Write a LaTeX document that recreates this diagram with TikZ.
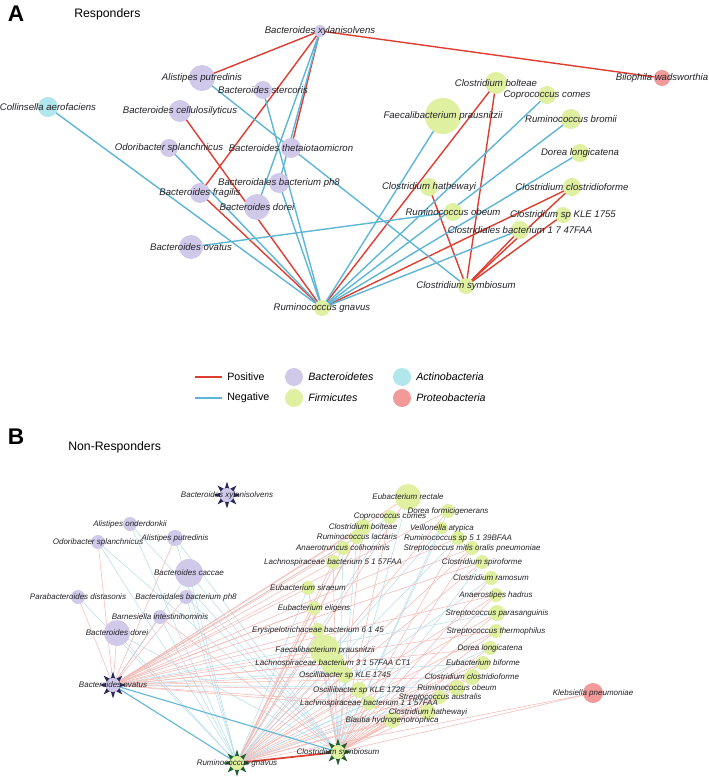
\documentclass[tikz,border=0pt]{standalone}
\usepackage{fontspec}
\setmainfont{Liberation Sans}
\usetikzlibrary{shapes.geometric}
\pgfdeclarelayer{bg}
\pgfdeclarelayer{fg}
\pgfsetlayers{bg,main,fg}
\definecolor{bact}{RGB}{208,201,234}
\definecolor{firm}{RGB}{223,240,160}
\definecolor{acti}{RGB}{176,230,236}
\definecolor{prot}{RGB}{242,154,154}
\definecolor{posc}{RGB}{222,62,50}
\definecolor{negc}{RGB}{94,182,214}
\definecolor{txt}{RGB}{35,35,40}
\definecolor{navyc}{RGB}{40,42,90}
\definecolor{dgreen}{RGB}{30,95,45}
\tikzset{
  pedge/.style={draw=posc, line width=1.05pt},
  nedge/.style={draw=negc, line width=1.05pt},
  fpedge/.style={draw=posc!36, line width=0.4pt},
  fnedge/.style={draw=negc!45, line width=0.4pt},
  labA/.style={font=\fontsize{7.2}{8}\selectfont\itshape, text=txt, inner sep=0},
  labB/.style={font=\fontsize{6}{7}\selectfont\itshape, text=txt, inner sep=0},
  sp/.style={circle, inner sep=0, draw=none},
  legt/.style={font=\fontsize{8}{9}\selectfont, text=black, inner sep=0, anchor=west},
  legi/.style={font=\fontsize{8}{9}\selectfont\itshape, text=black, inner sep=0, anchor=west},
  hubstar/.style={star, star points=8, star point ratio=2.1, minimum size=20pt, inner sep=0, draw=none},
}
\newcommand{\SpN}[7]{%
  \node[sp, fill=#5, minimum size={1.5*#4pt}] (#1) at (#2,#3) {};
  \begin{pgfonlayer}{fg}\node[#6] (#1-t) at (#2,#3) {#7};\end{pgfonlayer}
}
\newcommand{\HubN}[7]{%
  \node[hubstar, fill=#5] (#1-s) at (#2,#3) {};
  \node[sp, fill=#4, minimum size=10.5pt] (#1) at (#2,#3) {};
  \begin{pgfonlayer}{fg}\node[#6] (#1-t) at (#2,#3) {#7};\end{pgfonlayer}
}
\begin{document}
\begin{tikzpicture}[x=0.75pt, y=-0.75pt]
\useasboundingbox (0,0) rectangle (709,777);
\begin{pgfonlayer}{bg}
\fill[white] (0,0) rectangle (709,777);
\end{pgfonlayer}

% ---------------- Panel A ----------------
\node[font=\fontsize{17}{18}\selectfont\bfseries, inner sep=0] (tA) at (16,14) {A};
\node[font=\fontsize{9.2}{10}\selectfont, inner sep=0, anchor=west] (tAr) at (74,14) {Responders};

\SpN{axyl}{320}{31}{6}{bact}{labA}{Bacteroides xylanisolvens}
\SpN{abil}{662}{78}{8}{prot}{labA}{Bilophila wadsworthia}
\SpN{aali}{202}{78}{13}{bact}{labA}{Alistipes putredinis}
\SpN{aste}{263}{90}{9}{bact}{labA}{Bacteroides stercoris}
\SpN{acol}{48}{107}{10}{acti}{labA}{Collinsella aerofaciens}
\SpN{acel}{180}{111}{11}{bact}{labA}{Bacteroides cellulosilyticus}
\SpN{aodo}{169}{148}{9}{bact}{labA}{Odoribacter splanchnicus}
\SpN{athe}{291}{148}{10}{bact}{labA}{Bacteroides thetaiotaomicron}
\SpN{aph8}{279}{183}{10}{bact}{labA}{Bacteroidales bacterium ph8}
\SpN{afra}{200}{193}{10}{bact}{labA}{Bacteroides fragilis}
\SpN{ador}{257}{207}{13}{bact}{labA}{Bacteroides dorei}
\SpN{aova}{191}{247}{12}{bact}{labA}{Bacteroides ovatus}
\SpN{agna}{322}{308}{8}{firm}{labA}{Ruminococcus gnavus}
\SpN{afpr}{443}{116}{18}{firm}{labA}{Faecalibacterium prausnitzii}
\SpN{abol}{496}{83}{11}{firm}{labA}{Clostridium bolteae}
\SpN{acom}{547}{95}{9}{firm}{labA}{Coprococcus comes}
\SpN{abro}{571}{119}{10}{firm}{labA}{Ruminococcus bromii}
\SpN{adlo}{580}{153}{9}{firm}{labA}{Dorea longicatena}
\SpN{aclo}{572}{187}{9}{firm}{labA}{Clostridium clostridioforme}
\SpN{ahat}{429}{187}{9}{firm}{labA}{Clostridium hathewayi}
\SpN{aobe}{453}{212}{9}{firm}{labA}{Ruminococcus obeum}
\SpN{akle}{563}{215}{8}{firm}{labA}{Clostridium sp KLE 1755}
\SpN{ac47}{520}{230}{9}{firm}{labA}{Clostridiales bacterium 1 7 47FAA}
\SpN{asym}{466}{286}{8}{firm}{labA}{Clostridium symbiosum}

\begin{pgfonlayer}{bg}
\foreach \a/\b/\s in {axyl/abil/pedge, axyl/aali/pedge, axyl/afra/pedge, axyl/athe/pedge,
  acel/agna/pedge, afra/agna/pedge, abol/agna/pedge, aclo/agna/pedge,
  abol/asym/pedge, ahat/asym/pedge, aclo/asym/pedge, akle/asym/pedge, ac47/asym/pedge,
  acol/agna/nedge, aodo/agna/nedge, aste/agna/nedge, aph8/agna/nedge,
  axyl/ador/nedge, axyl/aph8/nedge, aali/asym/nedge, aova/aobe/nedge,
  afpr/agna/nedge, acom/agna/nedge, abro/agna/nedge, adlo/agna/nedge, ac47/agna/nedge}
  \draw[\s] (\a.center) -- (\b.center);
\end{pgfonlayer}

% legend
\coordinate (lp1) at (195,377);
\coordinate (lp2) at (222,377);
\coordinate (ln1) at (195,398);
\coordinate (ln2) at (222,398);
\draw[draw=posc, line width=2.2pt] (lp1) -- (lp2);
\draw[draw=negc, line width=2.2pt] (ln1) -- (ln2);
\node[legt] (lgpt) at (227,377) {Positive};
\node[legt] (lgnt) at (227,398) {Negative};
\node[sp, fill=bact, minimum size=13.5pt] (lgb) at (294,377) {};
\node[legi] (lgbt) at (308,377) {Bacteroidetes};
\node[sp, fill=firm, minimum size=13.5pt] (lgf) at (294,398) {};
\node[legi] (lgft) at (308,398) {Firmicutes};
\node[sp, fill=acti, minimum size=13.5pt] (lga) at (402,377) {};
\node[legi] (lgat) at (416,377) {Actinobacteria};
\node[sp, fill=prot, minimum size=13.5pt] (lgp) at (402,398) {};
\node[legi] (lgpr) at (416,398) {Proteobacteria};

% ---------------- Panel B ----------------
\node[font=\fontsize{17}{18}\selectfont\bfseries, inner sep=0] (tB) at (16,437) {B};
\node[font=\fontsize{9.2}{10}\selectfont, inner sep=0, anchor=west] (tBr) at (68,447) {Non-Responders};

\HubN{bxyl}{227}{495}{bact}{navyc}{labB}{Bacteroides xylanisolvens}
\HubN{bova}{113}{685}{bact}{navyc}{labB}{Bacteroides ovatus}
\HubN{bgna}{237}{763}{firm}{dgreen}{labB}{Ruminococcus gnavus}
\HubN{bsym}{338}{752}{firm}{dgreen}{labB}{Clostridium symbiosum}

\SpN{bond}{130}{524}{7}{bact}{labB}{Alistipes onderdonkii}
\SpN{bodo}{98}{542}{7}{bact}{labB}{Odoribacter splanchnicus}
\SpN{bput}{175}{538}{8}{bact}{labB}{Alistipes putredinis}
\SpN{bcac}{189}{573}{14}{bact}{labB}{Bacteroides caccae}
\SpN{bpar}{78}{597}{7}{bact}{labB}{Parabacteroides distasonis}
\SpN{bph8}{186}{597}{7}{bact}{labB}{Bacteroidales bacterium ph8}
\SpN{bbar}{160}{617}{7}{bact}{labB}{Barnesiella intestinihominis}
\SpN{bdor}{117}{633}{13}{bact}{labB}{Bacteroides dorei}
\SpN{bkle}{593}{693}{10}{prot}{labB}{Klebsiella pneumoniae}

\SpN{brec}{408}{497}{13}{firm}{labB}{Eubacterium rectale}
\SpN{bdfo}{448}{511}{7}{firm}{labB}{Dorea formicigenerans}
\SpN{bcom}{390}{517}{7}{firm}{labB}{Coprococcus comes}
\SpN{bbol}{363}{527}{8}{firm}{labB}{Clostridium bolteae}
\SpN{bvei}{442}{528}{6}{firm}{labB}{Veillonella atypica}
\SpN{blac}{357}{537}{7}{firm}{labB}{Ruminococcus lactaris}
\SpN{br39}{458}{538}{7}{firm}{labB}{Ruminococcus sp 5 1 39BFAA}
\SpN{bana}{343}{548}{7}{firm}{labB}{Anaerotruncus colihominis}
\SpN{bsmi}{472}{548}{7}{firm}{labB}{Streptococcus mitis oralis pneumoniae}
\SpN{bl57}{333}{562}{7}{firm}{labB}{Lachnospiraceae bacterium 5 1 57FAA}
\SpN{bspi}{482}{562}{7}{firm}{labB}{Clostridium spiroforme}
\SpN{bram}{491}{578}{7}{firm}{labB}{Clostridium ramosum}
\SpN{bsir}{308}{588}{7}{firm}{labB}{Eubacterium siraeum}
\SpN{bhad}{496}{595}{7}{firm}{labB}{Anaerostipes hadrus}
\SpN{beli}{314}{608}{7}{firm}{labB}{Eubacterium eligens}
\SpN{bspa}{497}{613}{8}{firm}{labB}{Streptococcus parasanguinis}
\SpN{bthe}{496}{631}{7}{firm}{labB}{Streptococcus thermophilus}
\SpN{bery}{318}{630}{7}{firm}{labB}{Erysipelotrichaceae bacterium 6 1 45}
\SpN{bfpr}{325}{650}{15}{firm}{labB}{Faecalibacterium prausnitzii}
\SpN{blct}{333}{663}{12}{firm}{labB}{Lachnospiraceae bacterium 3 1 57FAA CT1}
\SpN{bdlo}{490}{648}{7}{firm}{labB}{Dorea longicatena}
\SpN{bbif}{483}{663}{7}{firm}{labB}{Eubacterium biforme}
\SpN{bk45}{345}{675}{8}{firm}{labB}{Oscillibacter sp KLE 1745}
\SpN{bclo}{472}{677}{8}{firm}{labB}{Clostridium clostridioforme}
\SpN{bobe}{457}{688}{8}{firm}{labB}{Ruminococcus obeum}
\SpN{bk28}{359}{690}{8}{firm}{labB}{Oscillibacter sp KLE 1728}
\SpN{bsau}{440}{697}{7}{firm}{labB}{Streptococcus australis}
\SpN{bl11}{369}{703}{7}{firm}{labB}{Lachnospiraceae bacterium 1 1 57FAA}
\SpN{bhat}{428}{712}{8}{firm}{labB}{Clostridium hathewayi}
\SpN{bbla}{392}{720}{8}{firm}{labB}{Blautia hydrogenotrophica}

\begin{pgfonlayer}{bg}
\foreach \a/\b/\s in {
  bond/bgna/fnedge, bond/bsym/fnedge,
  bodo/bova/fpedge, bodo/bgna/fnedge, bodo/bsym/fnedge,
  bput/bova/fpedge, bput/bgna/fnedge, bput/bsym/fnedge,
  bcac/bova/fnedge, bcac/bgna/fnedge, bcac/bsym/fnedge,
  bpar/bova/fpedge, bpar/bgna/fnedge,
  bph8/bova/fpedge, bph8/bgna/fnedge, bph8/bsym/fnedge,
  bbar/bova/fpedge, bbar/bgna/fnedge, bbar/bsym/fpedge,
  bdor/bova/fpedge, bdor/bgna/fnedge, bdor/bsym/fnedge,
  brec/bova/fpedge, brec/bgna/fpedge, brec/bsym/fnedge,
  bdfo/bova/fpedge, bdfo/bgna/fpedge, bdfo/bsym/fnedge,
  bcom/bova/fnedge, bcom/bgna/fnedge, bcom/bsym/fpedge,
  bbol/bova/fpedge, bbol/bgna/fpedge, bbol/bsym/fpedge,
  bvei/bgna/fnedge, bvei/bsym/fnedge,
  blac/bova/fpedge, blac/bgna/fpedge, blac/bsym/fnedge,
  br39/bova/fpedge, br39/bgna/fnedge, br39/bsym/fpedge,
  bana/bova/fpedge, bana/bgna/fpedge, bana/bsym/fnedge,
  bsmi/bova/fpedge, bsmi/bgna/fpedge, bsmi/bsym/fpedge,
  bl57/bova/fpedge, bl57/bgna/fpedge, bl57/bsym/fpedge,
  bspi/bova/fpedge, bspi/bgna/fpedge, bspi/bsym/fnedge,
  bram/bgna/fnedge, bram/bsym/fpedge,
  bsir/bova/fpedge, bsir/bgna/fnedge, bsir/bsym/fpedge,
  bhad/bova/fpedge, bhad/bgna/fpedge, bhad/bsym/fpedge,
  beli/bova/fpedge, beli/bgna/fpedge, beli/bsym/fnedge,
  bspa/bova/fnedge, bspa/bgna/fpedge, bspa/bsym/fpedge,
  bthe/bova/fpedge, bthe/bgna/fpedge, bthe/bsym/fpedge,
  bery/bova/fpedge, bery/bgna/fpedge, bery/bsym/fnedge,
  bfpr/bova/fpedge, bfpr/bgna/fnedge, bfpr/bsym/fpedge,
  blct/bova/fpedge, blct/bgna/fpedge, blct/bsym/fnedge,
  bdlo/bova/fpedge, bdlo/bgna/fnedge, bdlo/bsym/fpedge,
  bbif/bova/fnedge, bbif/bgna/fpedge, bbif/bsym/fpedge,
  bk45/bova/fpedge, bk45/bgna/fpedge, bk45/bsym/fnedge,
  bclo/bova/fpedge, bclo/bgna/fpedge, bclo/bsym/fpedge,
  bobe/bova/fnedge, bobe/bgna/fnedge, bobe/bsym/fpedge,
  bk28/bova/fpedge, bk28/bgna/fpedge, bk28/bsym/fnedge,
  bsau/bgna/fpedge, bsau/bsym/fpedge,
  bl11/bova/fpedge, bl11/bgna/fnedge, bl11/bsym/fpedge,
  bhat/bova/fpedge, bhat/bgna/fpedge, bhat/bsym/fpedge,
  bbla/bgna/fpedge, bbla/bsym/fpedge,
  bkle/bgna/fpedge, bkle/bsym/fpedge}
  \draw[\s] (\a.center) -- (\b.center);
\draw[draw=negc, line width=0.8pt] (bova.center) -- (bgna.center);
\draw[draw=negc, line width=0.8pt] (bova.center) -- (bsym.center);
\draw[draw=posc, line width=1.3pt] (bgna.center) -- (bsym.center);
\end{pgfonlayer}
\end{tikzpicture}
\end{document}
